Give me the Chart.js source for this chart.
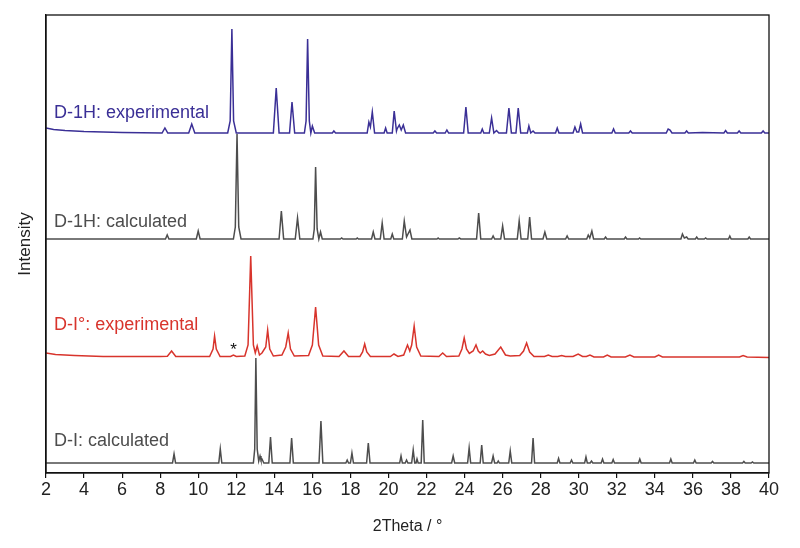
<!DOCTYPE html>
<html>
<head>
<meta charset="utf-8">
<title>PXRD</title>
<script src="https://cdn.jsdelivr.net/npm/chart.js@4.4.1/dist/chart.umd.min.js"></script>
<style>
  html,body{margin:0;padding:0;background:#fff;}
  #wrap{width:800px;height:548px;}
</style>
</head>
<body>
<div id="wrap"><canvas id="xrd" width="800" height="548"></canvas></div>
<script>
// [2theta, intensity], intensity in arbitrary units above each trace's own baseline
const d1hExp = [
  [2,5],[2.4,3.5],[3,2.5],[4,1.5],[5,1],[6,0.5],[8.1,0],[8.25,5],[8.4,0],[9.5,0],[9.66,9],[9.82,0],
  [11.55,0],[11.68,12],[11.77,104],[11.86,12],[12.0,0],[13.95,0],[14.1,45],[14.25,0],[14.8,0],[14.93,31],[15.07,0],
  [15.58,0],[15.67,12],[15.75,94],[15.84,12],[15.92,0],[16.0,7],[16.12,0],[17.05,0],[17.13,2],[17.22,0],
  [18.88,0],[18.97,11],[19.05,6],[19.15,21],[19.27,0],[19.77,0],[19.85,5],[19.93,0],[20.2,0],[20.3,22],[20.42,2],
  [20.45,4],[20.57,8],[20.67,3],[20.78,8],[20.9,0],[22.35,0],[22.44,2],[22.53,0],[22.98,0],[23.07,3],[23.16,0],
  [23.95,0],[24.07,26],[24.19,0],[24.85,0],[24.93,4],[25.01,0],[25.3,0],[25.42,15],[25.54,0],[25.68,2.5],[25.8,0],
  [26.2,0],[26.33,25],[26.46,0],[26.7,0],[26.82,25],[26.95,0],[27.3,0],[27.38,7],[27.48,0],[27.6,2],[27.7,0],
  [28.78,0],[28.87,5],[28.96,0],[29.7,0],[29.8,6],[29.9,1],[30.0,1],[30.1,9],[30.2,0],[31.74,0],[31.83,4],[31.92,0],
  [32.63,0],[32.72,2],[32.81,0],[34.6,0],[34.7,4],[34.8,3],[34.9,0],[35.58,0],[35.67,2],[35.76,0],[36.5,0.5],
  [37.63,0],[37.72,2.5],[37.81,0],[38.34,0],[38.43,2],[38.52,0],[39.6,0],[39.69,2],[39.78,0],[40,0]
];
const d1hCalc = [
  [2,0],[8.28,0],[8.37,4],[8.46,0],[9.9,0],[10.0,8],[10.1,0],[11.85,0],[11.95,12],[12.04,105],[12.13,12],[12.25,0],
  [14.25,0],[14.37,28],[14.49,0],[15.1,0],[15.22,21],[15.34,0],[16.03,0],[16.1,10],[16.17,72],[16.25,10],[16.34,0],
  [16.43,7],[16.52,0],[17.47,0],[17.54,1],[17.61,0],[18.3,0],[18.36,1],[18.42,0],[19.11,0],[19.2,7],[19.29,0],
  [19.57,0],[19.67,16],[19.77,0],[20.12,0],[20.2,5],[20.28,0],[20.73,0],[20.83,18],[20.95,2],[21.13,9],[21.23,0],
  [22.55,0],[22.61,1],[22.67,0],[23.65,0],[23.72,1],[23.8,0],[24.63,0],[24.74,26],[24.85,0],[25.42,0],[25.5,3],[25.58,0],
  [25.9,0],[26.0,13],[26.1,0],[26.77,0],[26.87,18],[26.97,0],[27.32,0],[27.42,22],[27.52,0],[28.12,0],[28.22,7],[28.32,0],
  [29.31,0],[29.39,3],[29.47,0],[30.42,0],[30.5,4],[30.58,1],[30.69,8],[30.78,0],[31.34,0],[31.41,2],[31.48,0],
  [32.39,0],[32.46,2],[32.53,0],[33.14,0],[33.2,1],[33.26,0],[35.37,0],[35.45,5],[35.55,1],[35.67,2],[35.75,0],
  [36.13,0],[36.2,2],[36.27,0],[36.6,0],[36.67,1],[36.74,0],[37.87,0],[37.94,3],[38.01,0],[38.89,0],[38.96,2],[39.03,0],[40,0]
];
const diExp = [
  [2,4],[2.5,2.5],[3.5,1.5],[5,0.5],[8,0.5],[8.38,0.8],[8.6,6],[8.82,0.5],[10.6,0.5],[10.78,8],[10.86,21],[10.95,8],[11.15,0.5],
  [11.7,0.5],[11.85,2],[12.0,0.5],[12.45,1],[12.62,12],[12.76,101],[12.9,12],[13.0,4],[13.1,11],[13.22,2],[13.35,4],
  [13.55,10],[13.65,27],[13.76,8],[13.95,1],[14.4,2],[14.6,10],[14.73,24],[14.85,8],[15.05,1],[15.8,1.5],[16.0,12],
  [16.17,50],[16.33,12],[16.55,1],[17.4,0.5],[17.66,6],[17.9,0.5],[18.5,0.5],[18.64,5],[18.75,13],[18.86,5],[19.05,0.5],
  [20.1,0.5],[20.29,3],[20.5,0.5],[20.8,2],[21.0,12],[21.12,6],[21.22,12],[21.35,31],[21.48,10],[21.7,1],[22.65,0.5],
  [22.85,4],[23.05,0.5],[23.7,1],[23.86,8],[23.98,19],[24.1,8],[24.25,3.5],[24.45,6],[24.6,12],[24.72,6],[24.82,4],
  [24.95,6],[25.1,3],[25.3,1.5],[25.6,3],[25.9,10],[26.15,2],[26.4,1],[26.9,1.5],[27.1,6],[27.26,14],[27.42,5],[27.65,0.5],
  [28.2,0.5],[28.4,2],[28.6,0.5],[28.9,0.5],[29.1,1.5],[29.3,0.5],[29.7,0.5],[29.97,3],[30.2,0.5],[30.4,0.5],[30.59,2],
  [30.8,0],[31.3,0],[31.5,2],[31.7,0],[32.45,0],[32.69,2],[32.9,0],[34.0,0],[34.2,2],[34.4,0],[38.45,0],[38.64,1.5],
  [38.85,0],[40,-0.5]
];
const diCalc = [
  [2,0],[8.65,0],[8.73,9],[8.81,0],[11.08,0],[11.16,14],[11.24,0],[12.9,0],[12.97,14],[13.03,105],[13.1,14],[13.18,2],
  [13.25,7],[13.3,3],[13.35,4],[13.45,0],[13.71,0],[13.8,26],[13.89,0],[14.82,0],[14.91,25],[15.0,0],[16.35,0],[16.45,42],
  [16.55,0],[17.76,0],[17.83,3],[17.9,0],[18.0,0],[18.08,10],[18.16,0],[18.85,0],[18.94,20],[19.03,0],[20.59,0],[20.66,7],
  [20.73,0],[20.88,0],[20.95,3],[21.02,0],[21.22,0],[21.3,13],[21.38,0],[21.45,0],[21.5,4],[21.56,0],[21.72,0],[21.8,43],
  [21.88,0],[23.32,0],[23.4,7],[23.48,0],[24.16,0],[24.24,15],[24.32,0],[24.82,0],[24.9,18],[24.98,0],[25.42,0],[25.5,7],
  [25.58,0],[25.71,0],[25.77,2],[25.83,0],[26.32,0],[26.4,12],[26.48,0],[27.52,0],[27.6,25],[27.68,0],[28.87,0],[28.94,4.5],
  [29.01,0],[29.55,0],[29.62,3],[29.69,0],[30.31,0],[30.38,6],[30.45,0],[30.6,0],[30.67,2],[30.74,0],[31.18,0],[31.25,4],
  [31.32,0],[31.74,0],[31.81,3.5],[31.88,0],[33.14,0],[33.21,4],[33.28,0],[34.77,0],[34.84,4],[34.91,0],[36.03,0],[36.1,3],
  [36.17,0],[36.96,0],[37.03,1.5],[37.1,0],[38.61,0],[38.68,1.5],[38.75,0],[39.06,0],[39.13,1],[39.2,0],[40,0]
];
const traceNames = ['D-1H: experimental','D-1H: calculated','D-I\u00b0: experimental','D-I: calculated'];
const xTicks = [2,4,6,8,10,12,14,16,18,20,22,24,26,28,30,32,34,36,38,40];

// stacking offsets and looks
const traces = [
  { data:d1hExp,  off:340, color:'#3a2f96', labelY:355 },
  { data:d1hCalc, off:234, color:'#4d4d4d', labelY:246 },
  { data:diExp,   off:116, color:'#d8342c', labelY:143 },
  { data:diCalc,  off:10,  color:'#4d4d4d', labelY:27 }
];
const FONT = '"Liberation Sans", Arial, sans-serif';

const labelsPlugin = {
  id:'labels',
  afterDatasetsDraw(chart){
    const {ctx, chartArea:a, scales:{x, y}} = chart;
    ctx.save();
    ctx.strokeStyle = '#111'; ctx.lineWidth = 1.3;
    ctx.strokeRect(a.left, a.top, a.right - a.left, a.bottom - a.top);
    ctx.font = '18px ' + FONT;
    ctx.textBaseline = 'alphabetic';
    ctx.textAlign = 'left';
    traces.forEach((t,i)=>{
      ctx.fillStyle = t.color;
      ctx.fillText(traceNames[i], x.getPixelForValue(2.42), y.getPixelForValue(t.labelY));
    });
    ctx.fillStyle = '#111';
    ctx.font = '17px ' + FONT;
    ctx.textAlign = 'center';
    ctx.fillText('*', x.getPixelForValue(11.86), y.getPixelForValue(118));
    ctx.restore();
  }
};

new Chart(document.getElementById('xrd'), {
  type:'line',
  data:{
    datasets: traces.map((t,i)=>({
      label: traceNames[i],
      data: t.data.map(p=>({x:p[0], y:p[1] + t.off})),
      borderColor: t.color,
      borderWidth: 1.5,
      pointRadius: 0,
      tension: 0,
      fill: false
    }))
  },
  options:{
    responsive:false,
    animation:false,
    layout:{ padding:{ top:15, right:31, left:0, bottom:0 } },
    plugins:{ legend:{ display:false }, tooltip:{ enabled:false } },
    scales:{
      x:{
        type:'linear', min:2, max:40,
        afterBuildTicks(s){ s.ticks = xTicks.map(v=>({value:v})); },
        afterFit(s){ s.height = 75; },
        ticks:{ font:{ family:FONT, size:18 }, color:'#222', padding:1, maxRotation:0, autoSkip:false },
        grid:{ drawOnChartArea:false, drawTicks:true, tickLength:5, color:'#111', lineWidth:1.2 },
        border:{ display:true, color:'#111', width:1.3 },
        title:{ display:true, text:'2Theta / \u00b0', font:{ family:FONT, size:16 }, color:'#222', padding:{ top:0, bottom:12 } }
      },
      y:{
        min:0, max:458,
        afterFit(s){ s.width = 46; },
        ticks:{ display:false },
        grid:{ display:false },
        border:{ display:true, color:'#111', width:1.3 },
        title:{ display:true, text:'Intensity', font:{ family:FONT, size:17 }, color:'#222', padding:{ top:15, bottom:0 } }
      }
    }
  },
  plugins:[labelsPlugin]
});
</script>
</body>
</html>
